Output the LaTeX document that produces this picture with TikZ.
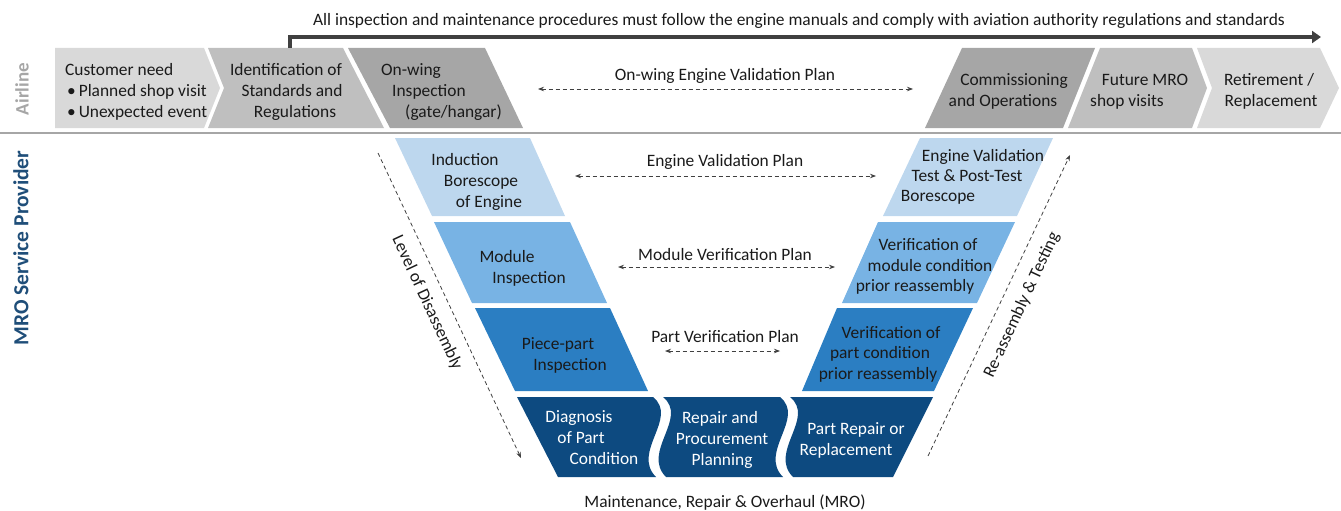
\documentclass[tikz,border=0pt]{standalone}
\usepackage{fontspec}
\setmainfont{Carlito}
\usetikzlibrary{arrows.meta}

\definecolor{grayA}{HTML}{D9D9D9}
\definecolor{grayB}{HTML}{BFBFBF}
\definecolor{grayC}{HTML}{A6A6A6}
\definecolor{blueA}{HTML}{BDD7EE}
\definecolor{blueB}{HTML}{78B3E4}
\definecolor{blueC}{HTML}{2B7EC2}
\definecolor{blueD}{HTML}{0D4A80}
\definecolor{navy}{HTML}{1F4E79}
\definecolor{ink}{HTML}{1A1A1A}
\definecolor{arrowgray}{HTML}{404040}

\tikzset{
  lbl/.style={font=\fontsize{17.4}{21}\selectfont, inner sep=0pt, text=ink, anchor=base},
  wlbl/.style={lbl, text=white},
  slanted/.style={font=\fontsize{17.4}{21}\selectfont, text=ink, inner sep=0pt},
  plan/.style={arrowgray, line width=0.8pt, dash pattern=on 4pt off 3pt,
    {Stealth[length=6pt,width=4.5pt]}-{Stealth[length=6pt,width=4.5pt]}},
  oneway/.style={arrowgray, line width=0.8pt, dash pattern=on 4pt off 3pt,
    -{Stealth[length=6pt,width=4.5pt]}},
}

% wave edge between the bottom blocks
\newcommand{\waveedge}[1]{(#1,397) .. controls (#1+26,418) and (#1-22,452) .. (#1+3,477)}
\newcommand{\waveback}[1]{(#1+3,477) .. controls (#1-22,452) and (#1+26,418) .. (#1,397)}

\begin{document}
\begin{tikzpicture}[x=1pt,y=-1pt]
\useasboundingbox (0,0) rectangle (1341,511);

% ---------- Airline row ----------
\fill[grayA] (55,48) -- (204,48) -- (220,88) -- (204,128) -- (55,128) -- cycle;
\fill[grayB] (208,48) -- (343,48) -- (384,128) -- (208,128) -- (224,88) -- cycle;
\fill[grayC] (348,48) -- (485,48) -- (523,128) -- (390,128) -- cycle;
\fill[grayC] (962,48) -- (1095,48) -- (1063,128) -- (925,128) -- cycle;
\fill[grayB] (1100,48) -- (1192,48) -- (1207,88) -- (1192,128) -- (1068,128) -- cycle;
\fill[grayA] (1197,48) -- (1320,48) -- (1339,88) -- (1320,128) -- (1197,128) -- (1212,88) -- cycle;

\draw[gray!70, line width=1.2pt] (0,133) -- (1341,133);

% regulations arrow
\coordinate (regS) at (290,48);
\coordinate (regE) at (1321,37);
\draw[arrowgray, line width=4pt, -{Triangle[length=9pt,width=12pt]}] (regS) |- (regE);
\node[lbl] (regtxt) at (799,26) {All inspection and maintenance procedures must follow the engine manuals and comply with aviation authority regulations and standards};

% side labels
\node[font=\fontsize{19}{22}\selectfont\bfseries, text=grayC, rotate=90, inner sep=0pt] (airline) at (22,89) {Airline};
\node[font=\fontsize{21.5}{24}\selectfont\bfseries, text=navy, rotate=90, inner sep=0pt] (mro) at (21,248) {MRO Service Provider};

% top row texts
\node[lbl, anchor=base west] (c1) at (65,75) {Customer need};
\node[lbl, anchor=base west] (c2) at (67,96) {\textbullet\,Planned shop visit};
\node[lbl, anchor=base west] (c3) at (67,117) {\textbullet\,Unexpected event};
\node[lbl] (i1) at (286,75) {Identification of};
\node[lbl] (i2) at (292,96) {Standards and};
\node[lbl] (i3) at (295,117) {Regulations};
\node[lbl, anchor=base west] (o1) at (381,75) {On-wing};
\node[lbl, anchor=base west] (o2) at (392,96) {Inspection};
\node[lbl, anchor=base west] (o3) at (405,117) {(gate/hangar)};
\node[lbl] (m1) at (1014,85) {Commissioning};
\node[lbl] (m2) at (1003,106) {and Operations};
\node[lbl] (f1) at (1145,85) {Future MRO};
\node[lbl, anchor=base west] (f2) at (1090,106) {shop visits};
\node[lbl] (r1) at (1269,85) {Retirement /};
\node[lbl] (r2) at (1271,106) {Replacement};

% ---------- V blocks ----------
\fill[blueA] (395,138) -- (530,138) -- (565,216) -- (432,216) -- cycle;
\fill[blueA] (920,138) -- (1053,138) -- (1017,216) -- (883,216) -- cycle;
\fill[blueB] (434,222) -- (570,222) -- (607,303) -- (472,303) -- cycle;
\fill[blueB] (878,222) -- (1015,222) -- (977,303) -- (842,303) -- cycle;
\fill[blueC] (475,308) -- (610,308) -- (648,391) -- (515,391) -- cycle;
\fill[blueC] (837,308) -- (973,308) -- (934,391) -- (802,391) -- cycle;
\fill[blueD] (517,397) -- \waveedge{653} -- (558,477) -- cycle;
\fill[blueD] \waveedge{663} -- (783,477) -- \waveback{780} -- cycle;
\fill[blueD] \waveedge{790} -- (893,477) -- (933,397) -- cycle;

\node[lbl] (a1) at (465,165) {Induction};
\node[lbl] (a2) at (481,186) {Borescope};
\node[lbl] (a3) at (489,207) {of Engine};
\node[lbl] (b1) at (507,262) {Module};
\node[lbl] (b2) at (529,283) {Inspection};
\node[lbl] (p1) at (558,349) {Piece-part};
\node[lbl] (p2) at (570,370) {Inspection};
\node[wlbl] (d1) at (579,422) {Diagnosis};
\node[wlbl] (d2) at (581,443) {of Part};
\node[wlbl] (d3) at (604,464) {Condition};
\node[wlbl] (q1) at (720,423) {Repair and};
\node[wlbl] (q2) at (722,444) {Procurement};
\node[wlbl] (q3) at (722,465) {Planning};
\node[wlbl] (s1) at (856,434) {Part Repair or};
\node[wlbl] (s2) at (846,455) {Replacement};
\node[lbl] (v1) at (891,338) {Verification of};
\node[lbl] (v2) at (880,358) {part condition};
\node[lbl] (v3) at (878,379) {prior reassembly};
\node[lbl] (w1) at (928,250) {Verification of};
\node[lbl] (w2) at (930,271) {module condition};
\node[lbl] (w3) at (915,291) {prior reassembly};
\node[lbl] (e1) at (983,161) {Engine Validation};
\node[lbl] (e2) at (967,181) {Test \& Post-Test};
\node[lbl] (e3) at (938,201) {Borescope};

% ---------- validation plans ----------
\node[lbl] (owp) at (725,81) {On-wing Engine Validation Plan};
\node[lbl] (evp) at (725,166) {Engine Validation Plan};
\node[lbl] (mvp) at (725,260) {Module Verification Plan};
\node[lbl] (pvp) at (725,342) {Part Verification Plan};
\node[lbl] (mroline) at (725,507) {Maintenance, Repair \& Overhaul (MRO)};

\coordinate (owL) at (538,89);  \coordinate (owR) at (913,89);
\coordinate (evL) at (575,176); \coordinate (evR) at (876,176);
\coordinate (mvL) at (618,267); \coordinate (mvR) at (835,267);
\coordinate (pvL) at (665,351); \coordinate (pvR) at (780,351);
\draw[plan] (owL) -- (owR);
\draw[plan] (evL) -- (evR);
\draw[plan] (mvL) -- (mvR);
\draw[plan] (pvL) -- (pvR);

% disassembly / reassembly directions
\coordinate (disT) at (378,153); \coordinate (disB) at (521,458);
\coordinate (reB) at (928,456);  \coordinate (reT) at (1070,155);
\draw[oneway] (disT) -- (disB);
\draw[oneway] (reB) -- (reT);
\node[slanted, rotate=-65] (lod) at (427,303) {Level of Disassembly};
\node[slanted, rotate=65] (rat) at (1022,305) {Re-assembly \& Testing};

\end{tikzpicture}
\end{document}
